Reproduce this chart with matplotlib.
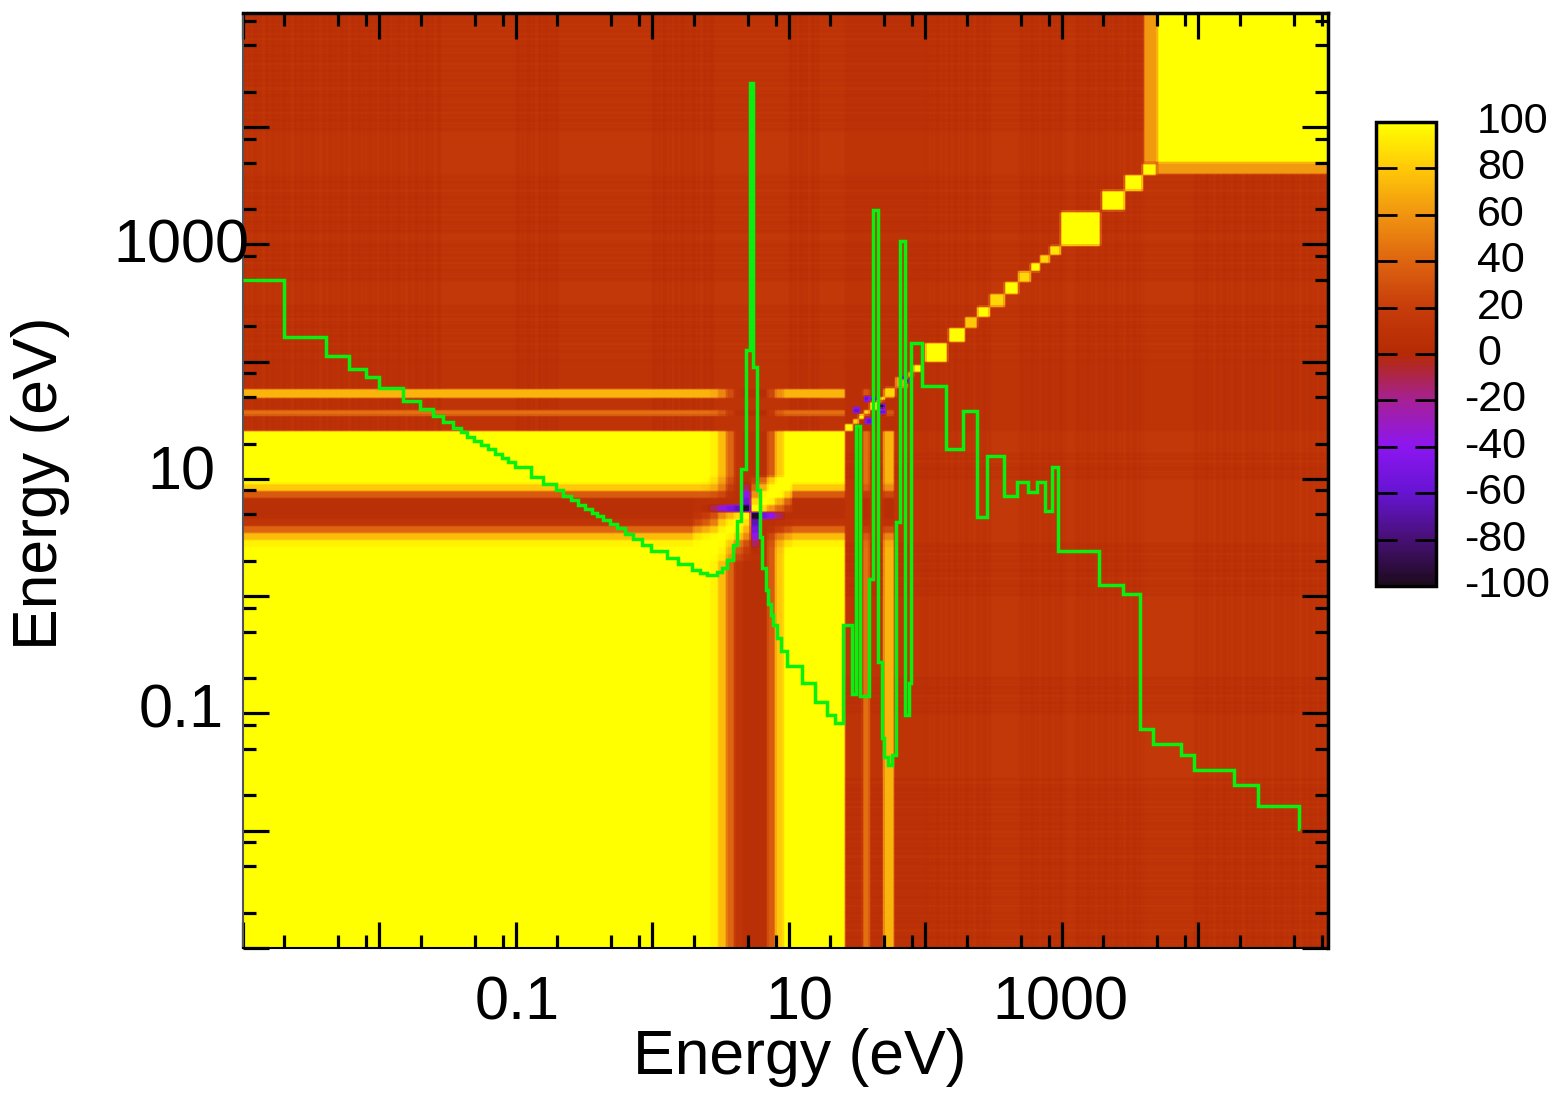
#!/usr/bin/env python3
"""
Correlation matrix of cross sections vs energy, with the group flux spectrum
drawn on top as a green step line. Saves out.png.
"""
import numpy as np
import matplotlib
matplotlib.use("Agg")
import matplotlib.pyplot as plt
from matplotlib.colors import LinearSegmentedColormap
from matplotlib.ticker import LogLocator, NullFormatter

plt.rcParams['font.family'] = ['Liberation Sans', 'DejaVu Sans']

# ─── FLUX SPECTRUM (log10 eV, log10 flux) ──────────────────────────────────────
flux_log_edges = [
    -3.000, -2.700, -2.392, -2.223, -2.099, -2.004, -1.828, -1.703, -1.608, -1.535,
    -1.462, -1.403, -1.359, -1.308, -1.256, -1.205, -1.154, -1.103, -1.059, -1.007,
    -0.890, -0.802, -0.707, -0.656, -0.597, -0.546, -0.495, -0.443, -0.407, -0.363,
    -0.311, -0.260, -0.201, -0.143, -0.077, -0.011, 0.106, 0.187, 0.289, 0.348,
    0.399, 0.473, 0.509, 0.546, 0.590, 0.619, 0.648, 0.685, 0.714, 0.736,
    0.766, 0.788, 0.802, 0.832, 0.846, 0.868, 0.883, 0.912, 0.941, 0.985,
    1.095, 1.190, 1.278, 1.337, 1.396, 1.462, 1.491, 1.520, 1.586, 1.615,
    1.652, 1.681, 1.696, 1.725, 1.755, 1.784, 1.813, 1.850, 1.879, 1.894,
    1.974, 2.150, 2.275, 2.377, 2.451, 2.575, 2.670, 2.751, 2.817, 2.875,
    2.927, 2.971, 3.271, 3.447, 3.571, 3.667, 3.872, 3.967, 4.260, 4.436,
    4.736, 4.744,
]
flux_log_values = [
    2.701, 2.207, 2.045, 1.942, 1.866, 1.772, 1.661, 1.593, 1.533, 1.482,
    1.431, 1.397, 1.354, 1.328, 1.294, 1.252, 1.217, 1.183, 1.149, 1.098,
    1.021, 0.953, 0.902, 0.851, 0.817, 0.774, 0.740, 0.714, 0.680, 0.646,
    0.612, 0.578, 0.527, 0.484, 0.441, 0.390, 0.322, 0.271, 0.220, 0.194,
    0.185, 0.203, 0.237, 0.305, 0.441, 0.638, 1.081, 2.104, 4.373, 1.959,
    0.902, 0.501, 0.237, 0.049, -0.062, -0.164, -0.249, -0.360, -0.463, -0.591,
    -0.744, -0.898, -1.009, -1.077, -0.249, -0.838, 1.448, -0.855, 0.151, 3.298,
    -0.565, -1.205, -1.375, -1.443, -1.358, 0.629, 3.026, -1.017, -0.744, 2.156,
    1.789, 1.252, 1.576, 0.672, 1.192, 0.859, 0.970, 0.893, 0.970, 0.723,
    1.098, 0.390, 0.092, 0.023, -1.136, -1.264, -1.350, -1.478, -1.614, -1.793,
    -1.989,
]

# ─── CORRELATION MATRIX PIECES (all energies log10 eV) ─────────────────────────
# how strongly each band belongs to the low energy (yellow) group
load_edges = [-3.0, 0.30, 0.36, 0.42, 0.48, 0.54, 0.60, 0.66, 0.72, 0.78,
              0.84, 0.90, 0.96, 1.02, 1.41, 1.54, 1.59, 1.69, 1.77]
load_values = [1.0, 1.0, 1.0, 0.95, 0.75, 0.40, 0.12, 0.05, 0.05, 0.05,
               0.35, 0.80, 1.0, 1.0, 0.0, 0.45, 0.0, 0.72, 0.0]

# correlations around the resonance, bands 0.30 to 1.02 in steps of 0.06
res_start = 0.30
res_step = 0.06
res_table = [
    [100, 100, 98, 90, 60, 25, 12, 8, 8, 35, 80, 100],
    [100, 100, 100, 95, 70, 35, 18, 4, 8, 35, 78, 98],
    [98, 100, 100, 98, 80, 50, 30, -12, 8, 32, 70, 88],
    [90, 95, 98, 100, 95, 80, 55, -35, 6, 25, 50, 65],
    [60, 70, 80, 95, 100, 95, 72, -50, 5, 10, 20, 30],
    [25, 35, 50, 80, 95, 100, 88, -65, 5, 5, 8, 10],
    [12, 18, 30, 55, 72, 88, 100, -98, -55, -40, -12, 5],
    [8, 4, -12, -35, -50, -65, -98, 100, 85, 60, 40, 20],
    [8, 8, 8, 6, 5, 5, -55, 85, 100, 95, 70, 40],
    [35, 35, 32, 25, 10, 5, -40, 60, 95, 100, 98, 80],
    [80, 78, 70, 50, 20, 8, -12, 40, 70, 98, 100, 100],
    [100, 98, 88, 65, 30, 10, 5, 20, 40, 80, 100, 100],
]

# blocks on the diagonal: (low, high, value)
diag_blocks = [
    (1.41, 1.47, 100), (1.47, 1.505, 85), (1.505, 1.55, 100), (1.55, 1.59, 85),
    (1.59, 1.67, 95), (1.67, 1.695, 100), (1.695, 1.777, 85), (1.78, 1.87, 65),
    (1.87, 1.91, 70), (1.91, 1.965, 100), (2.00, 2.16, 100), (2.165, 2.29, 100),
    (2.29, 2.38, 80), (2.38, 2.47, 100), (2.47, 2.58, 85), (2.58, 2.68, 100),
    (2.68, 2.765, 85), (2.765, 2.84, 100), (2.84, 2.91, 85), (2.91, 2.985, 90),
    (2.985, 3.278, 100), (3.285, 3.46, 100), (3.46, 3.594, 100), (3.594, 3.69, 100),
    (3.70, 4.98, 100),
]

# single off diagonal patches: (a low, a high, b low, b high, value)
off_patches = [
    (3.60, 3.70, 3.70, 4.98, 62),
    (1.55, 1.59, 1.66, 1.71, -60),
    (1.47, 1.52, 1.56, 1.61, -60),
    (1.66, 1.70, 1.60, 1.64, -95),
    (1.85, 1.88, 1.82, 1.85, -80),
]

# background texture: decades parts with fine plaid lines, and calmer parts
smooth_level = 15
stripe_zones = [(-3.0, -1.55), (-1.0, -0.69), (0.0, 0.45), (1.0, 1.22), (2.0, 2.48),
                (2.69, 3.03), (3.1, 3.6), (3.97, 4.98)]
stripe_pattern = [4, 4, 4, 18, 4, 4, 20, 4, 4, 4, 4, 16, 4, 4, 18, 18, 4, 4, 4, 20, 4]
quiet_bands = [(1.41, 2.0, 6)]

# ─── TICKS & LABELS ───────────────────────────────────────────────────────────
x_labels = [(0.1, "0.1", 1, 0), (10, "10", 10, 0), (1000, "1000", -2, 0)]
y_labels = [(1000, "1000", -3), (10, "10", 5), (0.1, "0.1", 1)]
cbar_ticks = [100, 80, 60, 40, 20, 0, -20, -40, -60, -80, -100]
cmap_values = [-100, -80, -60, -40, -20, 0, 20, 40, 60, 80, 100]
cmap_colors = ["#1c0a1c", "#471075", "#6614d2", "#8c16f0", "#a62096", "#b52a04",
               "#c63c0a", "#de6410", "#f09410", "#ffc808", "#ffff00"]

# ─── BUILD MATRIX ─────────────────────────────────────────────────────────────
grid_edges = np.arange(-3.0, 4.985, 0.01)
grid = 0.5 * (grid_edges[:-1] + grid_edges[1:])

load = np.array(load_values)[np.searchsorted(load_edges, grid, side='right') - 1]

level = np.full(grid.size, float(smooth_level))
for lo, hi in stripe_zones:
    idx = np.where((grid >= lo) & (grid < hi))[0]
    level[idx] = np.resize(stripe_pattern, idx.size)
for lo, hi, val in quiet_bands:
    level[(grid >= lo) & (grid < hi)] = val

low_part = np.outer(load, load)
corr = np.where(low_part > 0, 100 * low_part, 0.5 * np.add.outer(level, level))

res_idx = np.floor((grid - res_start) / res_step).astype(int)
res_table = np.array(res_table)
inside = (res_idx >= 0) & (res_idx < res_table.shape[0])
cells = np.where(inside)[0]
corr[np.ix_(cells, cells)] = res_table[np.ix_(res_idx[cells], res_idx[cells])]

for lo, hi, val in diag_blocks:
    m = np.where((grid >= lo) & (grid < hi))[0]
    corr[np.ix_(m, m)] = val
for a0, a1, b0, b1, val in off_patches:
    a = np.where((grid >= a0) & (grid < a1))[0]
    b = np.where((grid >= b0) & (grid < b1))[0]
    corr[np.ix_(a, b)] = val
    corr[np.ix_(b, a)] = val

# the plot was scaled up from a small raster, so soften the cell edges a bit
corr = np.pad(corr, 1, mode='edge')
corr = (corr[:-2, :] + 2 * corr[1:-1, :] + corr[2:, :]) / 4
corr = (corr[:, :-2] + 2 * corr[:, 1:-1] + corr[:, 2:]) / 4

cmap = LinearSegmentedColormap.from_list(
    "corr", [((v + 100) / 200, c) for v, c in zip(cmap_values, cmap_colors)], N=256)

# ─── PLOTTING ─────────────────────────────────────────────────────────────────
fig = plt.figure(figsize=(15.58, 10.97), dpi=100)
ax = fig.add_axes([243 / 1558, (1097 - 948) / 1097, 1085 / 1558, 935 / 1097])

energy_edges = 10 ** grid_edges
mesh = ax.pcolormesh(energy_edges, energy_edges, corr, cmap=cmap, vmin=-100, vmax=100,
                     shading='flat', rasterized=True, antialiased=False)
ax.stairs(10 ** np.array(flux_log_values), 10 ** np.array(flux_log_edges),
          baseline=None, color="#08f010", linewidth=2.5, zorder=3)

ax.set_xscale('log')
ax.set_yscale('log')
ax.set_xlim(1e-3, 10 ** 4.949)
ax.set_ylim(1e-3, 10 ** 4.974)

for axis in (ax.xaxis, ax.yaxis):
    axis.set_major_locator(LogLocator(base=10, subs=(1.0,), numticks=12))
    axis.set_minor_locator(LogLocator(base=10, subs=(2.0, 5.0, 8.0), numticks=12))
    axis.set_major_formatter(NullFormatter())
    axis.set_minor_formatter(NullFormatter())
ax.tick_params(which='major', direction='in', length=18.5, width=2.3, top=True, right=True)
ax.tick_params(which='minor', direction='in', length=9.2, width=2.3, top=True, right=True)

ax.spines['top'].set_linewidth(2.5)
ax.spines['right'].set_linewidth(2.5)
ax.spines['left'].set_linewidth(1.5)
ax.spines['left'].set_color("#555555")
ax.spines['bottom'].set_linewidth(1.5)

for val, text, dx, dy in x_labels:
    ax.annotate(text, xy=(val, 0), xycoords=('data', 'axes fraction'), xytext=(dx, -27 + dy),
                textcoords='offset pixels', ha='center', va='top', fontsize=44)
for val, text, dy in y_labels:
    ax.annotate(text, xy=(0, val), xycoords=('axes fraction', 'data'), xytext=(-62, dy),
                textcoords='offset pixels', ha='center', va='center', fontsize=44)

ax.set_xlabel("Energy (eV)", fontsize=45)
ax.xaxis.set_label_coords(0.513, -0.086)
ax.set_ylabel("Energy (eV)", fontsize=45)
ax.yaxis.set_label_coords(-0.159, 0.497)

# ─── COLORBAR ─────────────────────────────────────────────────────────────────
cax = fig.add_axes([1376 / 1558, (1097 - 586) / 1097, 60 / 1558, 464 / 1097])
cbar = fig.colorbar(mesh, cax=cax)
cbar.set_ticks(cbar_ticks)
cbar.ax.tick_params(which='both', direction='in', length=15, width=2, left=True, right=True,
                    labelright=False, labelleft=False)
cbar.outline.set_linewidth(2.5)
for val in cbar_ticks:
    cax.annotate(str(val), xy=(1, val), xycoords=('axes fraction', 'data'),
                 xytext=(41 if val >= 0 else 28, 0), textcoords='offset pixels',
                 ha='left', va='center', fontsize=31)

fig.savefig("out.png", dpi=100)
